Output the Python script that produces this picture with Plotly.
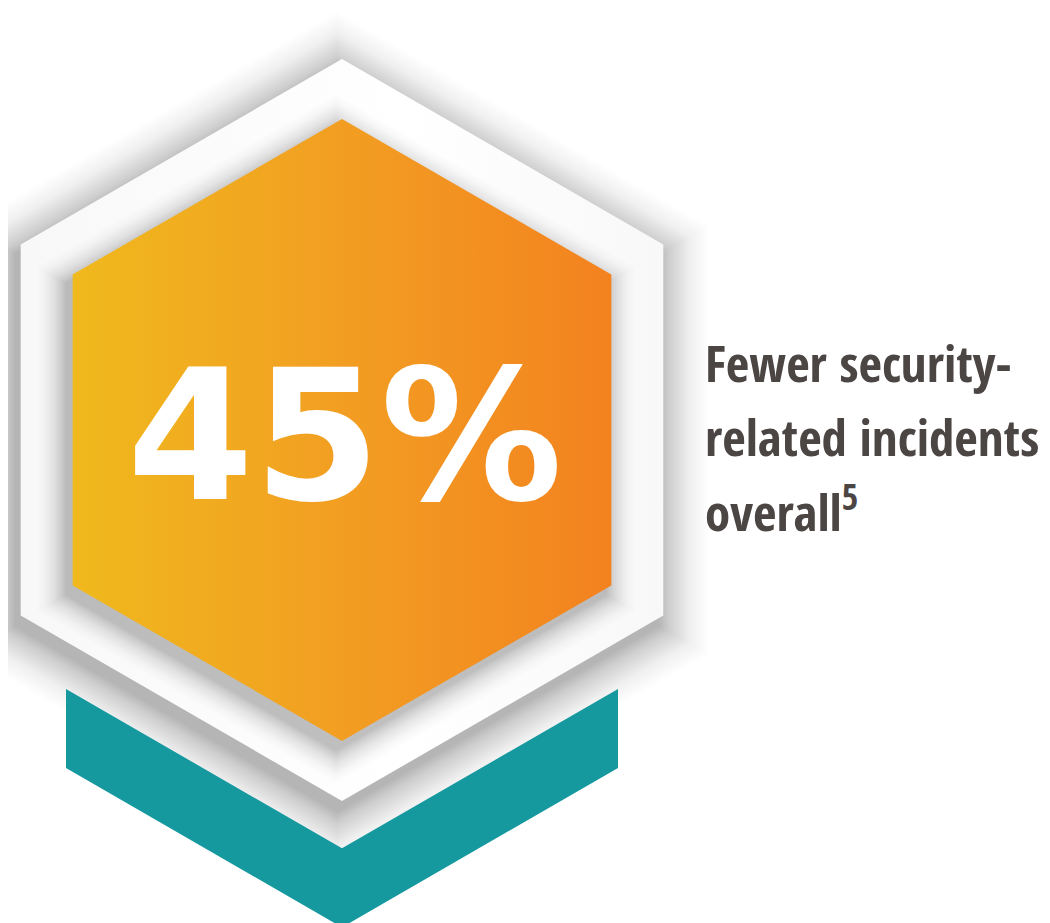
import math
import plotly.graph_objects as go

# ---- data ----
stat_value = 45
stat_suffix = "%"
label_lines = ["Fewer security-", "related incidents", "overall"]
footnote = "5"

# ---- styles ----
W, H = 1050, 923
PAGE_MARGIN = 8          # default body margin of the html page
CX, CY = 342, 430
R_OUTER = 371
R_INNER = 311
ORANGE_SCALE = [[0, "#F0B91D"], [0.5, "#F29E22"], [1, "#F3821F"]]
TEAL = "#15999F"
TEXT = "#4B4544"
COS30 = math.cos(math.radians(30))
LABEL_FONT = "Open Sans Condensed, Roboto Condensed, DejaVu Sans Condensed, sans-serif"
LABEL_SIZE = 51
LABEL_X = 703
LABEL_BASELINES = [380, 454, 527]


def hexagon(cx, cy, r):
    xs, ys = [], []
    for a in [90, 30, -30, -90, -150, 150, 90]:
        t = math.radians(a)
        xs.append(cx + r * math.cos(t))
        ys.append(cy - r * math.sin(t))
    return xs, ys


def path(xs, ys):
    return "M " + " L ".join(f"{x:.2f},{y:.2f}" for x, y in zip(xs, ys)) + " Z"


def shadow_alphas(n, dmax, power=2.0):
    # layers from outermost to innermost; cumulative darkness follows (k/n)^power
    out, prev = [], 0.0
    for k in range(1, n + 1):
        target = dmax * (k / n) ** power
        out.append(1 - (1 - target) / (1 - prev))
        prev = target
    return out


fig = go.Figure()

# outer soft shadow
shapes = []
n, ext = 44, 54
for k, a in enumerate(shadow_alphas(n, 0.25, 1.6)):
    d = ext * (1 - k / n)
    xs, ys = hexagon(CX - 5, CY + 10, R_OUTER + d / COS30)
    shapes.append(dict(type="path", path=path(xs, ys), fillcolor=f"rgba(0,0,0,{a:.5f})",
                       line=dict(width=0), layer="below"))
fig.update_layout(shapes=shapes)

# teal chevron
half_w = 276
slope = math.tan(math.radians(30))
top_left_y = 689
thick = 79
chev_x = [CX - half_w, CX, CX + half_w, CX + half_w, CX, CX - half_w, CX - half_w]
chev_y = [top_left_y, top_left_y + half_w * slope, top_left_y,
          top_left_y + thick, top_left_y + thick + half_w * slope, top_left_y + thick, top_left_y]
fig.add_trace(go.Scatter(x=chev_x, y=chev_y, fill="toself", fillcolor=TEAL,
                         mode="lines", line=dict(width=0), hoverinfo="skip"))

# white hexagon
xs, ys = hexagon(CX, CY, R_OUTER)
fig.add_trace(go.Scatter(x=xs, y=ys, fill="toself", mode="lines", line=dict(width=0),
                         fillgradient=dict(type="horizontal",
                                           colorscale=[[0, "#F8F8F8"], [0.6, "#FFFFFF"], [1, "#F8F8F8"]]),
                         hoverinfo="skip"))

# inner shadow around the orange hexagon
n2, ext2 = 30, 32
for k, a in enumerate(shadow_alphas(n2, 0.22, 1.7)):
    d = ext2 * (1 - k / n2)
    xs, ys = hexagon(CX - 6, CY + 9, R_INNER + d / COS30)
    fig.add_trace(go.Scatter(x=xs, y=ys, fill="toself", fillcolor=f"rgba(0,0,0,{a:.5f})",
                             mode="lines", line=dict(width=0), hoverinfo="skip"))

# orange hexagon
xs, ys = hexagon(CX, CY, R_INNER)
fig.add_trace(go.Scatter(x=xs, y=ys, fill="toself", mode="lines", line=dict(width=0),
                         fillgradient=dict(type="horizontal", colorscale=ORANGE_SCALE),
                         hoverinfo="skip"))

# big stat
fig.add_annotation(x=345, y=436, xref="x", yref="y", text=f"<b>{stat_value}{stat_suffix}</b>",
                   showarrow=False, xanchor="center", yanchor="middle",
                   font=dict(family="DejaVu Sans", size=182, color="white"))

# label, one annotation per line
texts = label_lines[:-1] + [label_lines[-1] + f"<sup>{footnote}</sup>"]
for t, base in zip(texts, LABEL_BASELINES):
    fig.add_annotation(x=LABEL_X, y=base - 0.36 * LABEL_SIZE, xref="x", yref="y",
                       text=f"<b>{t}</b>", showarrow=False,
                       xanchor="left", yanchor="middle", align="left",
                       font=dict(family=LABEL_FONT, size=LABEL_SIZE, color=TEXT))

fig.update_layout(
    width=W - PAGE_MARGIN, height=H - PAGE_MARGIN, margin=dict(l=0, r=0, t=0, b=0),
    paper_bgcolor="white", plot_bgcolor="white", showlegend=False,
    xaxis=dict(range=[PAGE_MARGIN, W], visible=False, fixedrange=True),
    yaxis=dict(range=[H, PAGE_MARGIN], visible=False, fixedrange=True),
)
fig.write_html("out.html")
